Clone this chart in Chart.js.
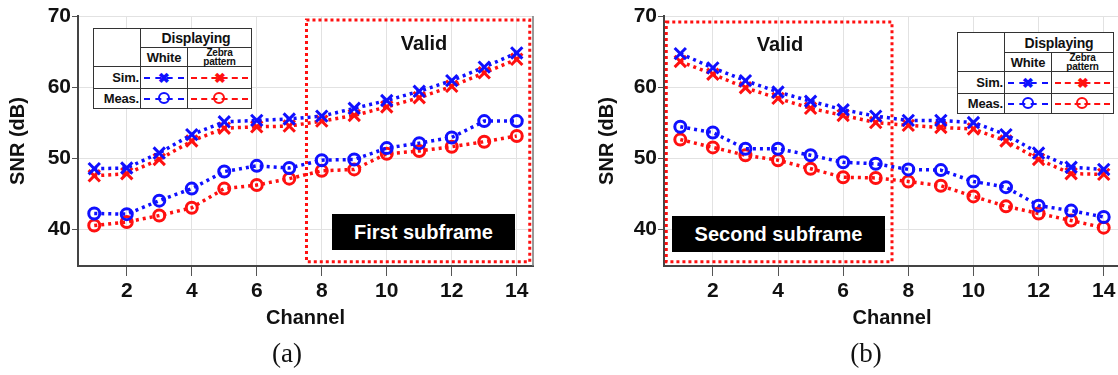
<!DOCTYPE html>
<html lang="en">
<head>
  <meta charset="UTF-8">
  <title>SNR per channel</title>
  <script src="https://cdn.jsdelivr.net/npm/chart.js"></script>
  <style>
    body {
      margin: 0;
      width: 1118px;
      height: 375px;
      overflow: hidden;
      background: #fff;
      position: relative;
      font-family: "Liberation Sans", Arial, sans-serif;
    }
    canvas { position: absolute; top: 0; }
    #chartA { left: 0; }
    #chartB { left: 590px; }
    /* annotation text */
    .valid {
      position: absolute;
      font-weight: bold;
      font-size: 20px;
      color: #111;
      transform: translate(-50%, -50%);
    }
    .sub {
      position: absolute;
      height: 36px;
      line-height: 36px;
      background: #000;
      color: #fff;
      font-weight: bold;
      font-size: 20px;
      text-align: center;
    }
    .cap {
      position: absolute;
      top: 338px;
      font-family: "Liberation Serif", "Times New Roman", serif;
      font-size: 27px;
      color: #111;
      transform: translateX(-50%);
    }
    /* legend table */
    table.leg {
      position: absolute;
      border-collapse: collapse;
      table-layout: fixed;
      background: #fff;
      font-weight: bold;
      color: #111;
    }
    table.leg td {
      border: 1.5px solid #333;
      padding: 0;
      font-size: 13px;
      text-align: center;
      vertical-align: middle;
      letter-spacing: -0.2px;
    }
    table.leg td.hd { font-size: 14px; }
    table.leg td.zb { font-size: 10px; line-height: 9px; }
    table.leg td.rl { text-align: right; padding-right: 1px; }
    .smp { position: relative; height: 100%; }
    .smp .ln {
      position: absolute; left: 3px; right: 3px; top: 50%;
      margin-top: -1px;
      border-top: 2.5px dashed currentColor;
    }
    .smp .xm {
      position: absolute; left: 50%; top: 50%;
      transform: translate(-50%, -52%);
      font-size: 14px; line-height: 14px;
    }
    .smp .om {
      position: absolute; left: 50%; top: 50%;
      width: 8px; height: 8px;
      margin: -6.5px 0 0 -6.5px;
      border: 2.5px solid currentColor;
      border-radius: 50%;
    }
    .blue { color: #1010ff; }
    .red { color: #ff1010; }
  </style>
</head>
<body>
  <canvas id="chartA" width="560" height="340"></canvas>
  <canvas id="chartB" width="560" height="340"></canvas>

  <!-- (a) first subframe annotations -->
  <div class="valid" style="left:424px; top:43px;">Valid</div>
  <div class="sub" style="left:332px; top:214px; width:183px;">First subframe</div>
  <table class="leg" style="left:93px; top:28px; width:158px;">
    <colgroup><col style="width:47px"><col style="width:47px"><col style="width:64px"></colgroup>
    <tr style="height:19px"><td rowspan="2"></td><td colspan="2" class="hd">Displaying</td></tr>
    <tr style="height:19px"><td>White</td><td class="zb">Zebra<br>pattern</td></tr>
    <tr style="height:22px"><td class="rl">Sim.</td>
      <td><div class="smp blue"><i class="ln"></i><b class="xm">&#10006;</b></div></td>
      <td><div class="smp red"><i class="ln"></i><b class="xm">&#10006;</b></div></td></tr>
    <tr style="height:20px"><td class="rl">Meas.</td>
      <td><div class="smp blue"><i class="ln"></i><b class="om"></b></div></td>
      <td><div class="smp red"><i class="ln"></i><b class="om"></b></div></td></tr>
  </table>

  <!-- (b) second subframe annotations -->
  <div class="valid" style="left:780px; top:44px;">Valid</div>
  <div class="sub" style="left:672px; top:216px; width:213px;">Second subframe</div>
  <table class="leg" style="left:957px; top:32px; width:156px;">
    <colgroup><col style="width:47px"><col style="width:47px"><col style="width:62px"></colgroup>
    <tr style="height:20px"><td rowspan="2"></td><td colspan="2" class="hd">Displaying</td></tr>
    <tr style="height:19px"><td>White</td><td class="zb">Zebra<br>pattern</td></tr>
    <tr style="height:22px"><td class="rl">Sim.</td>
      <td><div class="smp blue"><i class="ln"></i><b class="xm">&#10006;</b></div></td>
      <td><div class="smp red"><i class="ln"></i><b class="xm">&#10006;</b></div></td></tr>
    <tr style="height:20px"><td class="rl">Meas.</td>
      <td><div class="smp blue"><i class="ln"></i><b class="om"></b></div></td>
      <td><div class="smp red"><i class="ln"></i><b class="om"></b></div></td></tr>
  </table>

  <div class="cap" style="left:287px;">(a)</div>
  <div class="cap" style="left:866px;">(b)</div>

  <script>
    // Data
    const channels = [1, 2, 3, 4, 5, 6, 7, 8, 9, 10, 11, 12, 13, 14];
    const xTicks = [2, 4, 6, 8, 10, 12, 14];
    const yTicks = [40, 50, 60, 70];

    // (a) first subframe
    const simWhiteA   = [48.5, 48.6, 50.7, 53.3, 55.1, 55.3, 55.5, 55.9, 57.0, 58.1, 59.4, 60.9, 62.8, 64.8];
    const simZebraA   = [47.5, 47.8, 49.8, 52.4, 54.2, 54.4, 54.5, 55.2, 56.0, 57.2, 58.5, 60.1, 62.0, 63.9];
    const measWhiteA  = [42.2, 42.1, 44.0, 45.7, 48.1, 48.9, 48.6, 49.7, 49.8, 51.4, 52.1, 52.9, 55.2, 55.2];
    const measZebraA  = [40.5, 41.0, 41.9, 43.0, 45.7, 46.2, 47.1, 48.2, 48.4, 50.6, 51.0, 51.6, 52.3, 53.1];

    // (b) second subframe
    const simWhiteB   = [64.7, 62.7, 60.9, 59.3, 58.0, 56.8, 55.9, 55.3, 55.3, 55.0, 53.3, 50.7, 48.7, 48.4];
    const simZebraB   = [63.6, 61.8, 59.9, 58.4, 57.0, 56.0, 55.0, 54.6, 54.3, 54.1, 52.4, 49.8, 47.8, 47.7];
    const measWhiteB  = [54.4, 53.6, 51.3, 51.3, 50.4, 49.4, 49.2, 48.4, 48.3, 46.7, 45.9, 43.3, 42.6, 41.7];
    const measZebraB  = [52.6, 51.5, 50.4, 49.7, 48.5, 47.3, 47.2, 46.7, 46.1, 44.6, 43.2, 42.2, 41.2, 40.2];

    const BLUE = '#1010ff';
    const RED = '#ff1010';
    const FONT = { family: '"Liberation Sans", Arial, sans-serif', size: 21, weight: 'bold' };

    function pts(vals) {
      return vals.map((v, i) => ({ x: channels[i], y: v }));
    }

    function ds(label, vals, color, shape) {
      return {
        label: label,
        data: pts(vals),
        borderColor: color,
        backgroundColor: 'rgba(0,0,0,0)',
        borderWidth: 3.5,
        borderDash: [3, 4],
        pointStyle: shape,
        pointRadius: shape === 'crossRot' ? 8 : 5.5,
        pointBorderWidth: 3,
        pointBorderColor: color,
        pointBackgroundColor: 'rgba(0,0,0,0)',
        tension: 0
      };
    }

    // right edge of the box + red dotted "Valid" region
    const framePlugin = {
      id: 'frame',
      beforeDatasetsDraw(chart, args, opts) {
        const { ctx, chartArea: a, scales: { x, y } } = chart;
        ctx.save();
        ctx.strokeStyle = '#777';
        ctx.lineWidth = 1.5;
        ctx.beginPath();
        ctx.moveTo(a.right, a.top);
        ctx.lineTo(a.right, a.bottom);
        ctx.stroke();
        const r = opts.valid;
        const x0 = x.getPixelForValue(r[0]), x1 = x.getPixelForValue(r[1]);
        const y0 = y.getPixelForValue(r[3]), y1 = y.getPixelForValue(r[2]);
        ctx.strokeStyle = RED;
        ctx.lineWidth = 3;
        ctx.setLineDash([3, 3]);
        ctx.strokeRect(x0, y0, x1 - x0, y1 - y0);
        ctx.restore();
      }
    };

    function makeChart(id, sw, sz, mw, mz, axisW, padRight, titlePad, valid) {
      return new Chart(document.getElementById(id).getContext('2d'), {
        type: 'line',
        data: {
          datasets: [
            ds('Sim. White', sw, BLUE, 'crossRot'),
            ds('Sim. Zebra pattern', sz, RED, 'crossRot'),
            ds('Meas. White', mw, BLUE, 'circle'),
            ds('Meas. Zebra pattern', mz, RED, 'circle')
          ]
        },
        options: {
          responsive: false,
          animation: false,
          layout: { padding: { top: 16, right: padRight, left: 0, bottom: 0 } },
          plugins: {
            legend: { display: false },
            tooltip: { enabled: false },
            frame: { valid: valid }
          },
          scales: {
            x: {
              type: 'linear',
              min: 0.5,
              max: 14.5,
              afterBuildTicks: s => { s.ticks = xTicks.map(v => ({ value: v })); },
              afterFit: s => { s.height = 74; },
              grid: { color: '#e2e2e2', tickColor: '#555', tickLength: 10 },
              border: { color: '#444', width: 2 },
              ticks: { font: FONT, color: '#111', padding: 3, autoSkip: false, maxRotation: 0 },
              title: { display: true, text: 'Channel', font: { ...FONT, size: 20 }, color: '#111', padding: { top: 0, bottom: 10 } }
            },
            y: {
              min: 34.8,
              max: 70,
              afterBuildTicks: s => { s.ticks = yTicks.map(v => ({ value: v })); },
              afterFit: s => { s.width = axisW; },
              grid: { color: '#e2e2e2', tickColor: '#555', tickLength: 6 },
              border: { color: '#444', width: 2 },
              ticks: { font: FONT, color: '#111', padding: 1 },
              title: { display: true, text: 'SNR (dB)', font: { ...FONT, size: 20 }, color: '#111', padding: { top: titlePad, bottom: 0 } }
            }
          }
        },
        plugins: [framePlugin]
      });
    }

    makeChart('chartA', simWhiteA, simZebraA, measWhiteA, measZebraA, 78, 27, 6, [7.53, 14.4, 35.4, 69.44]);
    makeChart('chartB', simWhiteB, simZebraB, measWhiteB, measZebraB, 74, 30, 5, [0.57, 7.5, 35.4, 69.15]);
  </script>
</body>
</html>
